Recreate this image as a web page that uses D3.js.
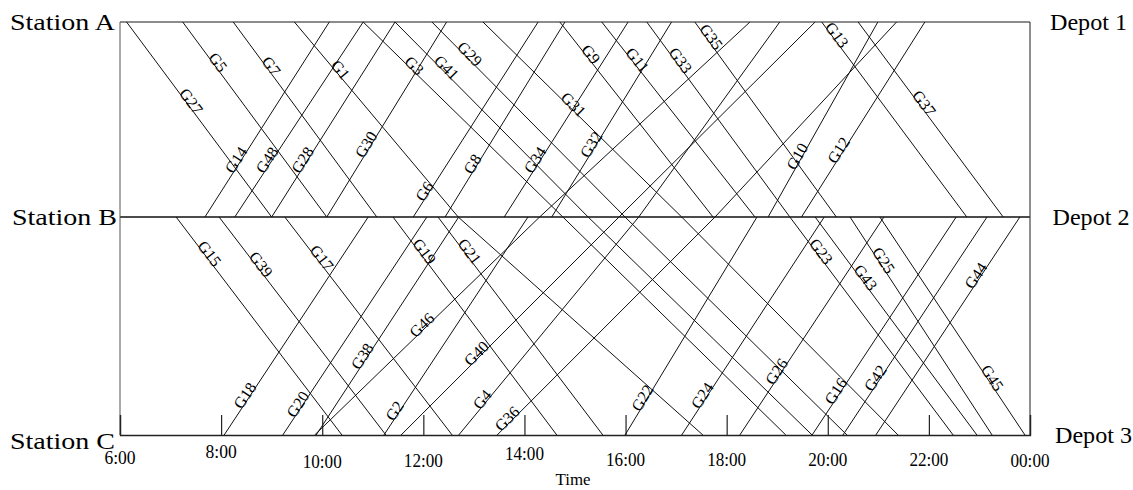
<!DOCTYPE html>
<html><head><meta charset="utf-8">
<script src="https://cdn.jsdelivr.net/npm/d3@7/dist/d3.min.js"></script>
<style>body{margin:0;background:#fff}svg{display:block}</style>
</head><body><svg id="c" width="1133" height="490"></svg>
<script>
// ---- data ----
const stations = ["Station A", "Station B", "Station C"];
const depots = ["Depot 1", "Depot 2", "Depot 3"];
const tickHours = [6, 8, 10, 12, 14, 16, 18, 20, 22, 24];
const tickLabels = ["6:00", "8:00", "10:00", "12:00", "14:00", "16:00", "18:00", "20:00", "22:00", "00:00"];
const xTitle = "Time";
// train ids and their paths: [station index, hour]
const trainIds = ["G27","G5","G7","G1","G3","G41","G29","G31","G9","G11","G33","G35","G13","G37",
  "G15","G39","G17","G19","G21","G23","G43","G25","G45",
  "G14","G48","G28","G30","G6","G8","G34","G32","G10","G12",
  "G18","G20","G38","G2","G22","G24","G26","G16","G42","G44",
  "G46","G40","G4","G36"];
const trainStops = [
  [[0,6.13],[1,9.00]], [[0,7.24],[1,10.09]], [[0,8.24],[1,11.08]],
  [[0,9.45],[1,12.69],[2,17.53]], [[0,10.81],[1,14.76],[2,19.17]], [[0,11.44],[1,15.26],[2,19.69]],
  [[0,12.17],[1,15.99],[2,20.38]], [[0,13.18],[1,17.11],[2,21.39]],
  [[0,14.70],[1,17.73]], [[0,15.53],[1,18.56]], [[0,16.42],[1,19.25]], [[0,17.37],[1,20.17]],
  [[0,19.88],[1,22.75]], [[0,20.60],[1,23.47]],
  [[1,7.11],[2,10.39]], [[1,7.96],[2,11.26]], [[1,9.26],[2,12.57]], [[1,11.40],[2,14.64]],
  [[1,12.29],[2,15.55]], [[1,19.25],[2,22.48]], [[1,19.75],[2,22.95]], [[1,20.44],[2,23.25]],
  [[1,21.03],[2,23.90]],
  [[1,7.68],[0,10.14]], [[1,8.27],[0,10.81]], [[1,9.00],[0,11.44]], [[1,10.09],[0,12.46]],
  [[1,11.80],[0,14.27]], [[1,12.43],[0,14.80]], [[1,13.60],[0,16.05]], [[1,14.54],[0,16.91]],
  [[1,18.82],[0,20.99]], [[1,19.48],[0,21.92]],
  [[2,8.06],[1,10.91]], [[2,9.22],[1,12.07]], [[2,9.88],[1,12.70]], [[2,11.22],[1,14.07]],
  [[2,15.99],[1,18.60]], [[2,17.11],[1,19.93]], [[2,18.26],[1,21.11]], [[2,19.69],[1,22.54]],
  [[2,20.30],[1,23.15]], [[2,20.95],[1,23.80]],
  [[2,9.85],[1,14.30],[0,18.46]], [[2,11.56],[1,15.87],[0,19.75]],
  [[2,12.70],[1,16.26],[0,19.05]], [[2,13.46],[1,17.77],[0,21.36]]
];
// position of each label along its first segment (0..1)
const labelAt = [0.42,0.22,0.24,0.26,0.24,0.25,0.18,0.44,0.18,0.21,0.21,0.09,0.08,0.43,
  0.18,0.23,0.20,0.17,0.17,0.17,0.29,0.21,0.75,
  0.28,0.28,0.28,0.36,0.12,0.26,0.28,0.36,0.30,0.33,
  0.17,0.13,0.35,0.10,0.16,0.17,0.28,0.19,0.25,0.72,
  0.49,0.36,0.15,0.06];

// ---- layout ----
const svg = d3.select("#c");
const x = d3.scaleLinear().domain([6, 24]).range([120, 1030]);
const y = d3.scaleOrdinal().domain([0, 1, 2]).range([22, 217, 435]);
const serif = "'Liberation Serif','Times New Roman',serif";

// frame
const g = svg.append("g");
g.append("line").attr("x1", x(6)).attr("x2", x(24)).attr("y1", y(0)).attr("y2", y(0)).attr("stroke", "#666").attr("stroke-width", 1.3);
g.append("line").attr("x1", x(6)).attr("x2", x(24)).attr("y1", y(1)).attr("y2", y(1)).attr("stroke", "#111").attr("stroke-width", 1.3);
g.append("line").attr("x1", x(6)).attr("x2", x(6)).attr("y1", y(0)).attr("y2", y(2)).attr("stroke", "#555").attr("stroke-width", 1);
g.append("line").attr("x1", x(24)).attr("x2", x(24)).attr("y1", y(0)).attr("y2", y(2)).attr("stroke", "#444").attr("stroke-width", 1.2);

// bottom axis with inward ticks
const axis = d3.axisBottom(x).tickValues(tickHours).tickSize(-20).tickFormat("");
const ax = svg.append("g").attr("transform", `translate(0,${y(2)})`).call(axis);
ax.select(".domain").attr("stroke", "#222").attr("stroke-width", 1.3);
ax.selectAll(".tick line").attr("stroke", "#222").attr("stroke-width", 1.2);
const tickDy = [29, 23, 33, 32, 25, 31, 31, 31, 31, 32];
svg.append("g").selectAll("text").data(tickHours).join("text")
  .attr("x", d => x(d)).attr("y", (d, i) => y(2) + tickDy[i])
  .attr("text-anchor", "middle").attr("font-family", serif).attr("font-size", 19)
  .attr("textLength", (d, i) => tickLabels[i].length * 7.8).attr("lengthAdjust", "spacingAndGlyphs")
  .text((d, i) => tickLabels[i]);
svg.append("text").attr("x", 573).attr("y", 485).attr("text-anchor", "middle")
  .attr("font-family", serif).attr("font-size", 17)
  .attr("textLength", 35).attr("lengthAdjust", "spacingAndGlyphs").text(xTitle);

// station / depot labels
svg.append("g").selectAll("text").data(stations).join("text")
  .attr("x", (d, i) => i === 1 ? 12 : 10).attr("y", (d, i) => y(i) + (i === 2 ? 14 : 8))
  .attr("font-family", serif).attr("font-size", 24)
  .attr("textLength", 105).attr("lengthAdjust", "spacingAndGlyphs").text(d => d);
svg.append("g").selectAll("text").data(depots).join("text")
  .attr("x", (d, i) => 1050 + i * 2.5).attr("y", (d, i) => y(i) + 8)
  .attr("font-family", serif).attr("font-size", 24)
  .attr("textLength", 77).attr("lengthAdjust", "spacingAndGlyphs").text(d => d);

// train lines
const line = d3.line().x(d => x(d[1])).y(d => y(d[0]));
svg.append("g").selectAll("path").data(trainStops).join("path")
  .attr("d", line).attr("fill", "none").attr("stroke", "#111").attr("stroke-width", 1);

// labels
const lab = svg.append("g");
trainStops.forEach((stops, i) => {
  const id = trainIds[i];
  if (!id) return;
  const p0 = stops[0], p1 = stops[1];
  const x0 = x(p0[1]), y0 = y(p0[0]), x1 = x(p1[1]), y1 = y(p1[0]);
  const f = labelAt[i];
  const px = x0 + (x1 - x0) * f, py = y0 + (y1 - y0) * f;
  let ang = Math.atan2(y1 - y0, x1 - x0) * 180 / Math.PI;
  if (ang > 90) ang -= 180; if (ang < -90) ang += 180;
  lab.append("text").attr("transform", `translate(${px},${py}) rotate(${ang})`)
    .attr("dy", 1).attr("text-anchor", "middle").attr("font-family", serif)
    .attr("font-size", 16).text(id);
});
</script></body></html>
